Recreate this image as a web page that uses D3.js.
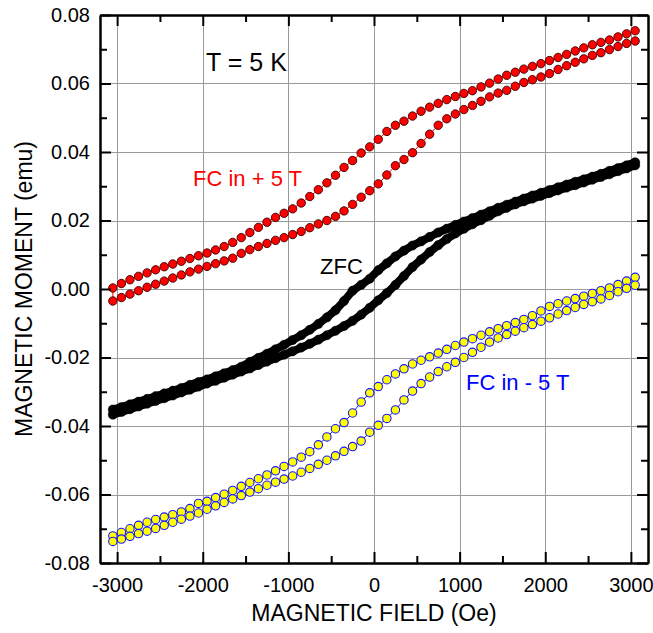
<!DOCTYPE html>
<html><head><meta charset="utf-8">
<script src="https://cdn.jsdelivr.net/npm/d3@7/dist/d3.min.js"></script>
<style>body{margin:0;background:#fff}svg{display:block}</style>
</head><body><svg id="chart" width="653" height="633"></svg>
<script>
// Applied field (Oe), shared by every branch
const fieldOe = [-3050,-2950,-2850,-2750,-2650,-2550,-2450,-2350,-2250,-2150,
  -2050,-1950,-1850,-1750,-1650,-1550,-1450,-1350,-1250,-1150,
  -1050,-950,-850,-750,-650,-550,-450,-350,-250,-150,
  -50,50,150,250,350,450,550,650,750,850,
  950,1050,1150,1250,1350,1450,1550,1650,1750,1850,
  1950,2050,2150,2250,2350,2450,2550,2650,2750,2850,
  2950,3050];

// FC in +5 T (red): descending (upper) and ascending (lower) branches
const fcPlusUpper = [0.0003,0.0016,0.0027,0.0037,0.0047,0.0056,0.0065,0.0073,0.0081,0.0089,
  0.0097,0.0105,0.0114,0.0124,0.0136,0.0150,0.0165,0.0180,0.0195,0.0209,
  0.0221,0.0234,0.0251,0.0270,0.0290,0.0310,0.0332,0.0355,0.0375,0.0397,
  0.0415,0.0437,0.0460,0.0478,0.0490,0.0505,0.0519,0.0531,0.0542,0.0553,
  0.0562,0.0571,0.0579,0.0590,0.0601,0.0613,0.0624,0.0633,0.0642,0.0650,
  0.0658,0.0667,0.0676,0.0685,0.0695,0.0704,0.0713,0.0720,0.0727,0.0736,
  0.0745,0.0754];
const fcPlusLower = [-0.0035,-0.0025,-0.0015,-0.0005,0.0005,0.0014,0.0023,0.0032,0.0041,0.0050,
  0.0058,0.0066,0.0074,0.0082,0.0090,0.0104,0.0115,0.0124,0.0133,0.0142,
  0.0150,0.0159,0.0168,0.0179,0.0190,0.0200,0.0212,0.0228,0.0247,0.0268,
  0.0287,0.0307,0.0333,0.0360,0.0378,0.0398,0.0425,0.0452,0.0478,0.0497,
  0.0511,0.0524,0.0536,0.0548,0.0561,0.0572,0.0580,0.0592,0.0603,0.0611,
  0.0619,0.0629,0.0641,0.0652,0.0662,0.0672,0.0682,0.0690,0.0699,0.0708,
  0.0717,0.0724];

// ZFC (black)
const zfcUpper = [-0.0352,-0.0345,-0.0337,-0.0329,-0.0321,-0.0313,-0.0305,-0.0297,-0.0289,-0.0280,
  -0.0272,-0.0264,-0.0255,-0.0246,-0.0237,-0.0227,-0.0213,-0.0201,-0.0189,-0.0176,
  -0.0163,-0.0149,-0.0135,-0.0119,-0.0102,-0.0083,-0.0062,-0.0035,-0.0005,0.0012,
  0.0030,0.0055,0.0075,0.0095,0.0112,0.0127,0.0139,0.0152,0.0165,0.0176,
  0.0187,0.0197,0.0207,0.0217,0.0227,0.0237,0.0246,0.0255,0.0264,0.0273,
  0.0281,0.0289,0.0297,0.0305,0.0313,0.0320,0.0328,0.0336,0.0345,0.0353,
  0.0361,0.0370];
const zfcLower = [-0.0367,-0.0359,-0.0351,-0.0343,-0.0335,-0.0327,-0.0319,-0.0311,-0.0302,-0.0294,
  -0.0285,-0.0276,-0.0268,-0.0259,-0.0250,-0.0241,-0.0232,-0.0222,-0.0212,-0.0202,
  -0.0192,-0.0182,-0.0171,-0.0160,-0.0148,-0.0135,-0.0122,-0.0108,-0.0093,-0.0075,
  -0.0055,-0.0033,-0.0012,0.0012,0.0038,0.0064,0.0086,0.0108,0.0128,0.0146,
  0.0162,0.0176,0.0189,0.0201,0.0214,0.0227,0.0237,0.0247,0.0256,0.0264,
  0.0272,0.0280,0.0288,0.0296,0.0303,0.0311,0.0319,0.0327,0.0335,0.0344,
  0.0352,0.0361];

// FC in -5 T (yellow)
const fcMinusUpper = [-0.0721,-0.0711,-0.0700,-0.0690,-0.0681,-0.0673,-0.0666,-0.0659,-0.0651,-0.0641,
  -0.0626,-0.0620,-0.0609,-0.0599,-0.0588,-0.0576,-0.0565,-0.0554,-0.0543,-0.0531,
  -0.0518,-0.0505,-0.0491,-0.0475,-0.0455,-0.0432,-0.0408,-0.0390,-0.0362,-0.0330,
  -0.0303,-0.0285,-0.0265,-0.0248,-0.0233,-0.0219,-0.0208,-0.0198,-0.0187,-0.0176,
  -0.0165,-0.0155,-0.0145,-0.0135,-0.0125,-0.0116,-0.0107,-0.0098,-0.0089,-0.0078,
  -0.0064,-0.0051,-0.0043,-0.0035,-0.0028,-0.0021,-0.0013,-0.0005,0.0003,0.0013,
  0.0023,0.0034];
const fcMinusLower = [-0.0737,-0.0730,-0.0722,-0.0714,-0.0707,-0.0699,-0.0690,-0.0681,-0.0672,-0.0663,
  -0.0654,-0.0643,-0.0633,-0.0623,-0.0613,-0.0603,-0.0593,-0.0583,-0.0573,-0.0564,
  -0.0555,-0.0546,-0.0535,-0.0524,-0.0512,-0.0500,-0.0487,-0.0474,-0.0460,-0.0444,
  -0.0418,-0.0398,-0.0378,-0.0353,-0.0324,-0.0298,-0.0276,-0.0257,-0.0241,-0.0227,
  -0.0214,-0.0200,-0.0185,-0.0170,-0.0155,-0.0143,-0.0133,-0.0123,-0.0113,-0.0104,
  -0.0094,-0.0084,-0.0073,-0.0063,-0.0054,-0.0045,-0.0037,-0.0029,-0.0019,-0.0008,
  0.0002,0.0011];

const xTicks = [-3000,-2000,-1000,0,1000,2000,3000];
const xTickLabels = ["-3000","-2000","-1000","0","1000","2000","3000"];
const xMinorTicks = [-2500,-1500,-500,500,1500,2500];
const yTicks = [-0.08,-0.06,-0.04,-0.02,0,0.02,0.04,0.06,0.08];
const yTickLabels = ["-0.08","-0.06","-0.04","-0.02","0.00","0.02","0.04","0.06","0.08"];
const yMinorTicks = [-0.07,-0.05,-0.03,-0.01,0.01,0.03,0.05,0.07];
const xTitle = "MAGNETIC FIELD (Oe)";
const yTitle = "MAGNETIC MOMENT (emu)";

const FONT = "'Liberation Sans', Arial, Helvetica, sans-serif";
const L = 100, R = 648, T = 15, B = 563;
const svg = d3.select("#chart");
svg.append("rect").attr("width",653).attr("height",633).attr("fill","#fff");

const x = d3.scaleLinear().domain([-3200, 3200]).range([L, R]);
const y = d3.scaleLinear().domain([-0.08, 0.08]).range([B, T]);

// grid
const grid = svg.append("g").attr("stroke","#9a9a9a").attr("stroke-width",1);
grid.selectAll("line.gx").data(xTicks).join("line")
  .attr("x1",d=>Math.round(x(d))+0.5).attr("x2",d=>Math.round(x(d))+0.5).attr("y1",T).attr("y2",B);
grid.selectAll("line.gy").data(yTicks.slice(1,-1)).join("line")
  .attr("y1",d=>Math.round(y(d))+0.5).attr("y2",d=>Math.round(y(d))+0.5).attr("x1",L).attr("x2",R);

function styleAxis(g){
  g.selectAll(".domain").attr("stroke","#000").attr("stroke-width",2);
  g.selectAll(".tick line").attr("stroke","#000").attr("stroke-width",2);
  g.selectAll("text").attr("font-family",FONT).attr("font-size",20).attr("fill","#000");
}

// data
const loops = [
  {up: fcPlusUpper, lo: fcPlusLower, fill: "#ff0000", stroke: "#3a0000", sw: 0.9, r: 4.2, line: "#ff0000", lw: 1},
  {up: zfcUpper, lo: zfcLower, fill: "#000000", stroke: "#000000", sw: 0.5, r: 4.6, line: "#000000", lw: 8},
  {up: fcMinusUpper, lo: fcMinusLower, fill: "#ffff00", stroke: "#1515ff", sw: 1.1, r: 4.2, line: "#1515ff", lw: 1}
];
const lineGen = d3.line().x(d=>x(d[0])).y(d=>y(d[1]));
loops.forEach(lp => {
  const upPts = fieldOe.map((f,i)=>[f, lp.up[i]]).reverse();
  const loPts = fieldOe.map((f,i)=>[f, lp.lo[i]]);
  const pts = upPts.concat(loPts);
  const g = svg.append("g");
  g.append("path").attr("d", lineGen(pts)).attr("fill","none")
    .attr("stroke", lp.line).attr("stroke-width", lp.lw).attr("stroke-linejoin","round").attr("stroke-linecap","round");
  g.selectAll("circle").data(pts).join("circle")
    .attr("cx", d=>x(d[0])).attr("cy", d=>y(d[1])).attr("r", lp.r)
    .attr("fill", lp.fill).attr("stroke", lp.stroke).attr("stroke-width", lp.sw);
});

// axes: major ticks inward
const gB = svg.append("g").attr("transform",`translate(0,${B})`)
  .call(d3.axisBottom(x).tickValues(xTicks).tickFormat((d,i)=>xTickLabels[i]).tickSize(-11).tickSizeOuter(0).tickPadding(15));
styleAxis(gB);
const gBm = svg.append("g").attr("transform",`translate(0,${B})`)
  .call(d3.axisBottom(x).tickValues(xMinorTicks).tickFormat("").tickSize(-7).tickSizeOuter(0));
styleAxis(gBm);
const gTp = svg.append("g").attr("transform",`translate(0,${T})`)
  .call(d3.axisTop(x).tickValues(xTicks).tickFormat("").tickSize(-11).tickSizeOuter(0));
styleAxis(gTp);
const gTm = svg.append("g").attr("transform",`translate(0,${T})`)
  .call(d3.axisTop(x).tickValues(xMinorTicks).tickFormat("").tickSize(-7).tickSizeOuter(0));
styleAxis(gTm);
const gL = svg.append("g").attr("transform",`translate(${L},0)`)
  .call(d3.axisLeft(y).tickValues(yTicks).tickFormat((d,i)=>yTickLabels[i]).tickSize(-11).tickSizeOuter(0).tickPadding(10));
styleAxis(gL);
const gLm = svg.append("g").attr("transform",`translate(${L},0)`)
  .call(d3.axisLeft(y).tickValues(yMinorTicks).tickFormat("").tickSize(-7).tickSizeOuter(0));
styleAxis(gLm);
const gR = svg.append("g").attr("transform",`translate(${R},0)`)
  .call(d3.axisRight(y).tickValues(yTicks).tickFormat("").tickSize(-11).tickSizeOuter(0));
styleAxis(gR);
const gRm = svg.append("g").attr("transform",`translate(${R},0)`)
  .call(d3.axisRight(y).tickValues(yMinorTicks).tickFormat("").tickSize(-7).tickSizeOuter(0));
styleAxis(gRm);

// titles
svg.append("text").attr("x",(L+R)/2).attr("y",621).attr("text-anchor","middle")
  .attr("font-family",FONT).attr("font-size",23).attr("fill","#000").text(xTitle);
svg.append("text").attr("transform",`translate(32,${(T+B)/2}) rotate(-90)`).attr("text-anchor","middle")
  .attr("font-family",FONT).attr("font-size",23).attr("fill","#000").text(yTitle);

// annotations
const notes = [
  {t:"T = 5 K", px:206, py:71, c:"#000", s:25},
  {t:"FC in + 5 T", px:193, py:186, c:"#ff0000", s:22},
  {t:"ZFC", px:320, py:274, c:"#000", s:22},
  {t:"FC in - 5 T", px:466, py:390, c:"#0000ff", s:22}
];
svg.selectAll("text.note").data(notes).join("text").attr("class","note")
  .attr("x",d=>d.px).attr("y",d=>d.py).attr("fill",d=>d.c)
  .attr("font-family",FONT).attr("font-size",d=>d.s).text(d=>d.t);
</script>
</body></html>
